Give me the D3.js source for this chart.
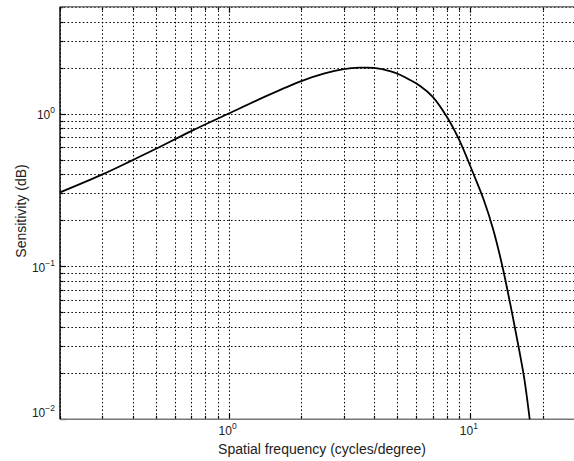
<!DOCTYPE html>
<html>
<head>
<meta charset="utf-8">
<script src="https://cdn.jsdelivr.net/npm/d3@7"></script>
<style>
  html, body { margin: 0; padding: 0; background: #fff; overflow: hidden; }
  svg { display: block; font-family: "Liberation Sans", Arial, sans-serif; }
</style>
</head>
<body>
<svg id="chart" width="574" height="461"></svg>
<script>
// ---- data ----
const freq = [0.2, 0.3, 0.4, 0.5, 0.7, 1.0, 1.4, 2.0, 2.5, 3.0, 3.5, 4.0, 4.7, 5.1, 5.6, 6.2, 7.0, 8.0, 9.0, 10.3, 11.4, 12.5, 13.7, 14.9, 16.0, 16.8, 17.7];
const sens = [0.305, 0.40, 0.496, 0.588, 0.768, 1.0, 1.28, 1.63, 1.83, 1.95, 1.995, 1.99, 1.89, 1.80, 1.67, 1.52, 1.29, 0.96, 0.68, 0.41, 0.274, 0.174, 0.097, 0.051, 0.0285, 0.0185, 0.01];
const xMajor = [1, 10];
const xMajorLabels = [["10", "0"], ["10", "1"]];
const xMinor = [0.2, 0.3, 0.4, 0.5, 0.6, 0.7, 0.8, 0.9, 2, 3, 4, 5, 6, 7, 8, 9, 20];
const yMajor = [0.01, 0.1, 1];
const yMajorLabels = [["10", "\u22122"], ["10", "\u22121"], ["10", "0"]];
const yMinor = [0.02, 0.03, 0.04, 0.05, 0.06, 0.07, 0.08, 0.09, 0.2, 0.3, 0.4, 0.5, 0.6, 0.7, 0.8, 0.9, 2, 3, 4, 5];
const xTitle = "Spatial frequency (cycles/degree)";
const yTitle = "Sensitivity (dB)";

const svg = d3.select("#chart");
const L = 60, R = 585, T = 6.7, B = 419.3;
const x = d3.scaleLog().domain([0.2, 30]).range([L, R]);
const y = d3.scaleLog().domain([0.01, 5]).range([B, T]);

svg.append("rect").attr("width", 574).attr("height", 461).attr("fill", "#fff");

// grid
const grid = svg.append("g").attr("stroke", "#000").attr("stroke-width", 1)
  .attr("stroke-dasharray", "1.5,2.3").attr("fill", "none");
xMajor.concat(xMinor).forEach(v => {
  grid.append("line").attr("x1", Math.round(x(v)) + 0.5).attr("x2", Math.round(x(v)) + 0.5)
    .attr("y1", T).attr("y2", B);
});
yMajor.concat(yMinor).filter(v => v > 0.01).forEach(v => {
  grid.append("line").attr("y1", Math.round(y(v)) + 0.5).attr("y2", Math.round(y(v)) + 0.5)
    .attr("x1", L).attr("x2", R);
});

// ticks (inside)
const ticks = svg.append("g").attr("stroke", "#000").attr("stroke-width", 1.2);
xMajor.forEach(v => {
  const px = Math.round(x(v)) + 0.5;
  ticks.append("line").attr("x1", px).attr("x2", px).attr("y1", B).attr("y2", B - 6);
  ticks.append("line").attr("x1", px).attr("x2", px).attr("y1", T).attr("y2", T + 6);
});
xMinor.forEach(v => {
  const px = Math.round(x(v)) + 0.5;
  ticks.append("line").attr("x1", px).attr("x2", px).attr("y1", B).attr("y2", B - 3.5);
  ticks.append("line").attr("x1", px).attr("x2", px).attr("y1", T).attr("y2", T + 3.5);
});
yMajor.forEach(v => {
  const py = Math.round(y(v)) + 0.5;
  ticks.append("line").attr("y1", py).attr("y2", py).attr("x1", L).attr("x2", L + 6);
});
yMinor.forEach(v => {
  const py = Math.round(y(v)) + 0.5;
  ticks.append("line").attr("y1", py).attr("y2", py).attr("x1", L).attr("x2", L + 3.5);
});

// axes box
svg.append("line").attr("x1", L).attr("x2", 574).attr("y1", T).attr("y2", T)
  .attr("stroke", "#777").attr("stroke-width", 1.5);
svg.append("line").attr("x1", L).attr("x2", 574).attr("y1", B).attr("y2", B)
  .attr("stroke", "#777").attr("stroke-width", 1.5);
svg.append("line").attr("x1", L).attr("x2", L).attr("y1", T).attr("y2", B)
  .attr("stroke", "#000").attr("stroke-width", 1.4);

// curve
const line = d3.line().x((d, i) => x(freq[i])).y((d, i) => y(sens[i])).curve(d3.curveCatmullRom.alpha(0.5));
svg.append("path").datum(sens).attr("d", line).attr("fill", "none")
  .attr("stroke", "#000").attr("stroke-width", 1.8);

// tick labels
const lab = svg.append("g").attr("fill", "#222").attr("font-size", 12);
xMajor.forEach((v, i) => {
  const t = lab.append("text").attr("x", x(v) - 1).attr("y", 435).attr("text-anchor", "middle");
  t.append("tspan").text(xMajorLabels[i][0]);
  t.append("tspan").attr("dy", -6).attr("font-size", 8.5).text(xMajorLabels[i][1]);
});
yMajor.forEach((v, i) => {
  const by = Math.min(y(v) + 5.5, 417);
  const t = lab.append("text").attr("x", 55).attr("y", by).attr("text-anchor", "end");
  t.append("tspan").text(yMajorLabels[i][0]);
  t.append("tspan").attr("dy", -6).attr("font-size", 8.5).text(yMajorLabels[i][1]);
});

// titles
svg.append("text").attr("x", 322).attr("y", 454).attr("text-anchor", "middle")
  .attr("font-size", 14).attr("fill", "#222").text(xTitle);
svg.append("text").attr("transform", "translate(26,211) rotate(-90)").attr("text-anchor", "middle")
  .attr("font-size", 14).attr("fill", "#222").text(yTitle);
</script>
</body>
</html>
